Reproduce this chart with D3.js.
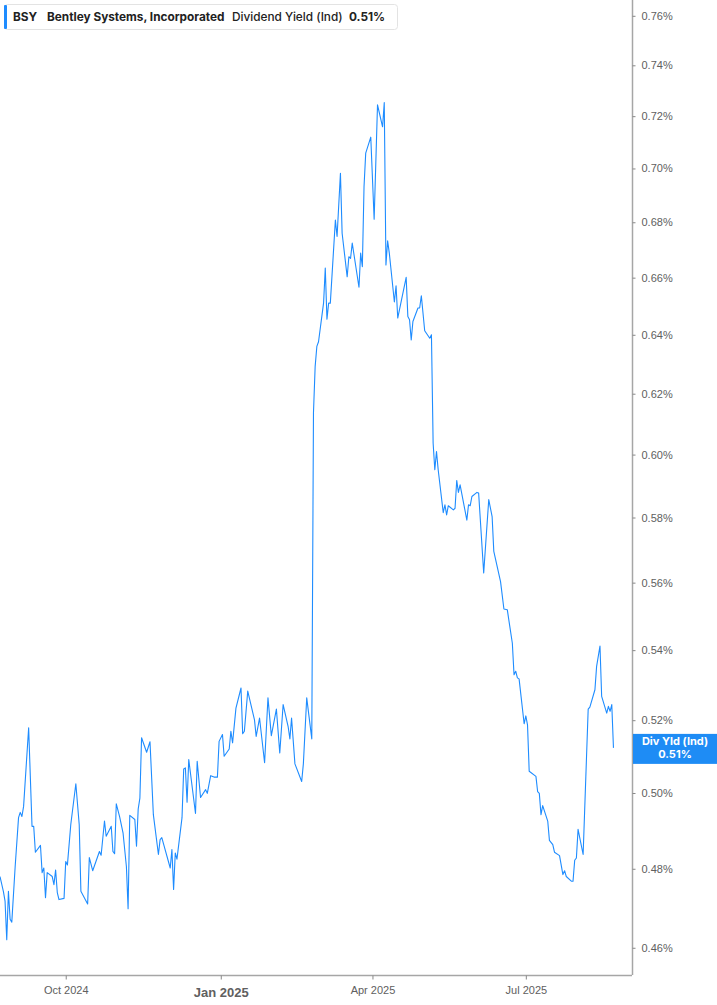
<!DOCTYPE html>
<html>
<head>
<meta charset="utf-8">
<script src="https://cdn.jsdelivr.net/npm/d3@7"></script>
<style>
  body { margin: 0; background: #fff; }
  svg { display: block; font-family: Inter, "Noto Sans", sans-serif; }
</style>
</head>
<body>
<svg width="717" height="1005"></svg>
<script>
// BSY dividend yield (indicated, in %)
var dates = [
  "2024-08-23","2024-08-25","2024-08-26","2024-08-27","2024-08-28","2024-08-29","2024-08-30","2024-09-01","2024-09-03","2024-09-04",
  "2024-09-05","2024-09-06","2024-09-09","2024-09-11","2024-09-12","2024-09-13","2024-09-16","2024-09-17","2024-09-18","2024-09-19",
  "2024-09-20","2024-09-23","2024-09-24","2024-09-25","2024-09-26","2024-09-27","2024-09-30","2024-10-01","2024-10-02","2024-10-04",
  "2024-10-07","2024-10-09","2024-10-10","2024-10-14","2024-10-15","2024-10-17","2024-10-21","2024-10-22","2024-10-24","2024-10-25",
  "2024-10-28","2024-10-29","2024-10-30","2024-10-31","2024-11-02","2024-11-04","2024-11-06","2024-11-07","2024-11-08","2024-11-11",
  "2024-11-12","2024-11-13","2024-11-14","2024-11-15","2024-11-18","2024-11-20","2024-11-22","2024-11-25","2024-11-26","2024-11-27",
  "2024-12-02","2024-12-03","2024-12-04","2024-12-05","2024-12-06","2024-12-09","2024-12-10","2024-12-11","2024-12-12","2024-12-13",
  "2024-12-17","2024-12-18","2024-12-20","2024-12-23","2024-12-24","2024-12-26","2024-12-28","2024-12-30","2024-12-31","2025-01-02",
  "2025-01-03","2025-01-06","2025-01-07","2025-01-08","2025-01-10","2025-01-13","2025-01-14","2025-01-15","2025-01-17","2025-01-21",
  "2025-01-22","2025-01-24","2025-01-27","2025-01-29","2025-01-31","2025-02-03","2025-02-05","2025-02-07","2025-02-10","2025-02-11",
  "2025-02-12","2025-02-14","2025-02-18","2025-02-19","2025-02-21","2025-02-24","2025-02-25","2025-02-26","2025-02-27","2025-02-28",
  "2025-03-03","2025-03-04","2025-03-05","2025-03-06","2025-03-07","2025-03-10","2025-03-11","2025-03-13","2025-03-14","2025-03-17",
  "2025-03-18","2025-03-19","2025-03-20","2025-03-24","2025-03-25","2025-03-26","2025-03-27","2025-03-28","2025-03-31","2025-04-02",
  "2025-04-04","2025-04-07","2025-04-08","2025-04-09","2025-04-10","2025-04-11","2025-04-14","2025-04-15","2025-04-16","2025-04-21",
  "2025-04-22","2025-04-23","2025-04-24","2025-04-25","2025-04-28","2025-04-29","2025-04-30","2025-05-02","2025-05-05","2025-05-06",
  "2025-05-07","2025-05-08","2025-05-09","2025-05-10","2025-05-13","2025-05-14","2025-05-15","2025-05-16","2025-05-19","2025-05-20",
  "2025-05-21","2025-05-22","2025-05-23","2025-05-27","2025-05-28","2025-05-29","2025-05-30","2025-06-02","2025-06-03","2025-06-06",
  "2025-06-09","2025-06-11","2025-06-12","2025-06-16","2025-06-18","2025-06-20","2025-06-23","2025-06-24","2025-06-25","2025-06-26",
  "2025-06-27","2025-06-30","2025-07-01","2025-07-02","2025-07-03","2025-07-07","2025-07-08","2025-07-09","2025-07-10","2025-07-11",
  "2025-07-14","2025-07-15","2025-07-17","2025-07-18","2025-07-21","2025-07-23","2025-07-24","2025-07-25","2025-07-28","2025-07-29",
  "2025-07-30","2025-07-31","2025-08-01","2025-08-04","2025-08-07","2025-08-08","2025-08-11","2025-08-12","2025-08-14","2025-08-15",
  "2025-08-18","2025-08-19","2025-08-20","2025-08-21","2025-08-22"
];
var yields = [
  0.4780,0.4742,0.4717,0.4620,0.4742,0.4671,0.4664,0.4806,0.4934,0.4948,
  0.4937,0.4964,0.5179,0.4911,0.4911,0.4843,0.4861,0.4790,0.4802,0.4726,
  0.4790,0.4780,0.4759,0.4797,0.4739,0.4721,0.4724,0.4819,0.4810,0.4916,
  0.5025,0.4916,0.4742,0.4710,0.4829,0.4795,0.4845,0.4835,0.4925,0.4885,
  0.4911,0.4845,0.4839,0.4971,0.4936,0.4894,0.4806,0.4698,0.4940,0.4929,
  0.4859,0.4957,0.4986,0.5151,0.5111,0.5140,0.4942,0.4837,0.4876,0.4881,
  0.4802,0.4850,0.4747,0.4841,0.4825,0.4934,0.5065,0.5068,0.4975,0.5091,
  0.4945,0.5086,0.4988,0.5009,0.4999,0.5047,0.5043,0.5043,0.5141,0.5160,
  0.5100,0.5120,0.5169,0.5137,0.5234,0.5291,0.5162,0.5169,0.5282,0.5201,
  0.5155,0.5206,0.5082,0.5263,0.5157,0.5231,0.5109,0.5244,0.5181,0.5148,
  0.5206,0.5079,0.5031,0.5079,0.5263,0.5148,0.6137,0.6292,0.6360,0.6376,
  0.6511,0.6634,0.6454,0.6510,0.6510,0.6808,0.6748,0.6982,0.6760,0.6603,
  0.6675,0.6669,0.6724,0.6566,0.6688,0.6639,0.6932,0.7058,0.7119,0.6811,
  0.7244,0.7159,0.7253,0.6645,0.6732,0.6688,0.6514,0.6571,0.6458,0.6601,
  0.6463,0.6452,0.6382,0.6446,0.6493,0.6493,0.6536,0.6414,0.6388,0.6400,
  0.6037,0.5951,0.6010,0.5951,0.5815,0.5840,0.5808,0.5837,0.5824,0.5829,
  0.5917,0.5879,0.5903,0.5792,0.5840,0.5837,0.5866,0.5879,0.5877,0.5629,
  0.5856,0.5803,0.5695,0.5603,0.5521,0.5519,0.5420,0.5329,0.5339,0.5320,
  0.5317,0.5190,0.5212,0.5187,0.5059,0.5045,0.5004,0.4999,0.4942,0.4966,
  0.4925,0.4874,0.4863,0.4843,0.4834,0.4785,0.4795,0.4780,0.4768,0.4768,
  0.4822,0.4828,0.4903,0.4837,0.5231,0.5237,0.5286,0.5353,0.5412,0.5267,
  0.5220,0.5239,0.5225,0.5244,0.5123
];

var yTicks = [0.46, 0.48, 0.50, 0.52, 0.54, 0.56, 0.58, 0.60, 0.62, 0.64, 0.66, 0.68, 0.70, 0.72, 0.74, 0.76];
var xTicks = ["2024-10-01", "2025-01-01", "2025-04-01", "2025-07-01"];
var xTickLabels = ["Oct 2024", "Jan 2025", "Apr 2025", "Jul 2025"];
var xDomain = ["2024-08-23", "2025-09-02"];
var yDomain = [0.4533, 0.7665];

var ticker = "BSY",
    company = "Bentley Systems, Incorporated",
    metric = "Dividend Yield (Ind)",
    badgeName = "Div Yld (Ind)";

var blue = "#1e8cff";

var svg = d3.select("svg"),
    plotW = 632,
    plotH = 975;

var parse = d3.utcParse("%Y-%m-%d");
var data = dates.map(function(d, i) { return {date: parse(d), value: yields[i]}; });
var last = data[data.length - 1];
// values are already percentages
var fmt = function(v) { return d3.format(".2f")(v) + "%"; };

var x = d3.scaleUtc().domain(xDomain.map(parse)).range([0, plotW]),
    y = d3.scaleLog().domain(yDomain).range([plotH, 0]);

// y axis on the right
var yAxis = svg.append("g")
    .attr("transform", "translate(" + (plotW + 0.5) + ",0)")
    .call(d3.axisRight(y).tickValues(yTicks).tickSize(3).tickPadding(6).tickFormat(fmt));
yAxis.select(".domain").attr("stroke", "#a6a6a6").attr("stroke-width", 1.5)
    .attr("d", "M0,0V" + plotH);
yAxis.selectAll(".tick line").attr("stroke", "#888");
yAxis.selectAll(".tick text")
    .attr("fill", "#606060")
    .style("font-size", "11px");

// x axis at the bottom
var xAxis = svg.append("g")
    .attr("transform", "translate(0," + (plotH + 0.5) + ")")
    .call(d3.axisBottom(x).tickValues(xTicks.map(parse)).tickSize(4).tickPadding(7)
        .tickFormat(function(d, i) { return xTickLabels[i]; }));
xAxis.select(".domain").attr("stroke", "#a6a6a6").attr("stroke-width", 1.5)
    .attr("d", "M0,0H" + plotW);
xAxis.selectAll(".tick line").attr("stroke", "#888");
xAxis.selectAll(".tick text")
    .attr("fill", "#606060")
    .style("font-size", function(d, i) { return i === 1 ? "13px" : "11px"; })
    .style("font-weight", function(d, i) { return i === 1 ? "700" : "500"; })
    .attr("dy", function(d, i) { return i === 1 ? "0.78em" : "0.71em"; });

// the line
var line = d3.line()
    .x(function(d) { return x(d.date); })
    .y(function(d) { return y(d.value); });

svg.append("path")
    .datum(data)
    .attr("fill", "none")
    .attr("stroke", blue)
    .attr("stroke-width", 1.1)
    .attr("stroke-linejoin", "round")
    .attr("d", line);

// last value badge
var by = y(last.value);
var badge = svg.append("g").attr("transform", "translate(" + (plotW + 1) + "," + by + ")");
badge.append("rect")
    .attr("x", 0).attr("y", -14)
    .attr("width", 717 - plotW - 1).attr("height", 30)
    .attr("fill", "#1e8cf5");
badge.append("text")
    .attr("x", 42).attr("y", -3)
    .attr("text-anchor", "middle")
    .attr("fill", "#fff")
    .style("font-size", "11px").style("font-weight", "700")
    .text(badgeName);
badge.append("text")
    .attr("x", 42).attr("y", 10)
    .attr("text-anchor", "middle")
    .attr("fill", "#fff")
    .style("font-size", "11px").style("font-weight", "700")
    .text(fmt(last.value));

// legend box
var legend = svg.append("g");
legend.append("rect")
    .attr("x", 4.5).attr("y", 4.5).attr("width", 393).attr("height", 25)
    .attr("rx", 3)
    .attr("fill", "#fff").attr("stroke", "#e3e3e3");
legend.append("rect")
    .attr("x", 4).attr("y", 5).attr("width", 3).attr("height", 24)
    .attr("rx", 1)
    .attr("fill", blue);

var legendText = legend.append("text")
    .attr("y", 21)
    .attr("fill", "#222")
    .style("font-size", "11.8px");
legendText.append("tspan").attr("x", 13).style("font-weight", "700").text(ticker);
legendText.append("tspan").attr("x", 47).style("font-weight", "700").text(company);
legendText.append("tspan").attr("x", 232).style("font-weight", "500").text(metric);
legendText.append("tspan").attr("x", 349).style("font-weight", "700").text(fmt(last.value));
</script>
</body>
</html>
